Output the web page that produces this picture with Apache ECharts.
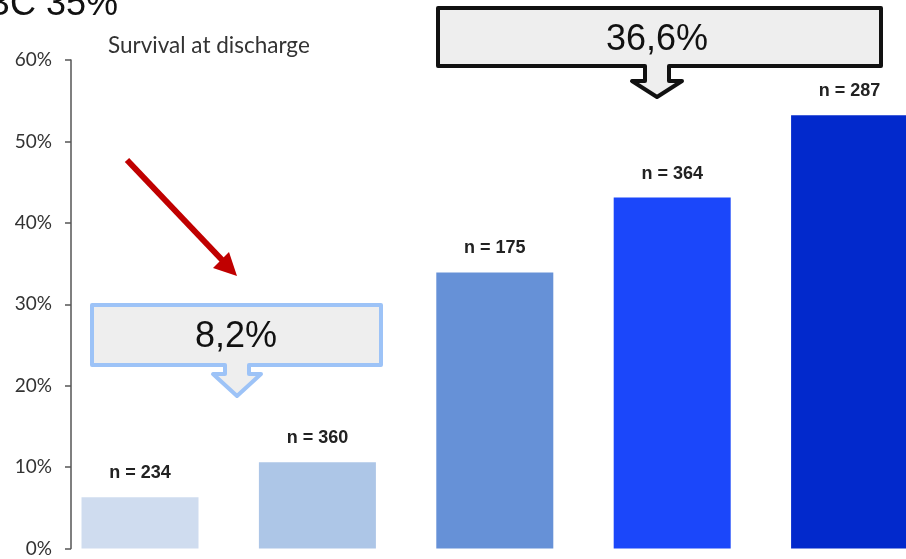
<!DOCTYPE html>
<html>
<head>
<meta charset="utf-8">
<script src="https://cdn.jsdelivr.net/npm/echarts@6/dist/echarts.min.js"></script>
<style>
  html, body { margin: 0; padding: 0; background: #fff; }
  #chart { width: 906px; height: 559px; }
</style>
</head>
<body>
<div id="chart"></div>
<script>
// Survival at discharge by group
const groupIndex = [0, 1, 2, 3, 4];
const survivalPct = [6.3, 10.6, 33.9, 43.1, 53.2];
const groupSizes = [234, 360, 175, 364, 287];
const barColors = ['#cfdcef', '#adc6e7', '#6691d7', '#1b47fa', '#0229cc'];
const yTicks = { min: 0, max: 60, step: 10 };

const chartTitle = 'Survival at discharge';
const headerText = 'BC 35%';
const calloutLow = '8,2%';
const calloutHigh = '36,6%';

const chart = echarts.init(document.getElementById('chart'), null, { renderer: 'canvas' });

// Outline of a rectangular callout with a downward block arrow beneath it
function calloutPath(x0, y0, x1, y1, cx, stemHalf, headHalf, shoulderY, tipY) {
  return [
    [x0, y0], [x1, y0], [x1, y1],
    [cx + stemHalf, y1], [cx + stemHalf, shoulderY], [cx + headHalf, shoulderY],
    [cx, tipY],
    [cx - headHalf, shoulderY], [cx - stemHalf, shoulderY], [cx - stemHalf, y1],
    [x0, y1]
  ];
}

chart.setOption({
  animation: false,
  backgroundColor: '#ffffff',
  grid: { left: 71, top: 60, right: 0, height: 488.5, containLabel: false },
  // groups sit on an index scale; the last bar runs past the right edge
  xAxis: {
    type: 'value',
    min: -0.389,
    max: 4.318,
    axisLine: { show: false },
    axisTick: { show: false },
    axisLabel: { show: false },
    splitLine: { show: false }
  },
  yAxis: {
    type: 'value',
    min: yTicks.min,
    max: yTicks.max,
    interval: yTicks.step,
    axisLine: { show: true, onZero: false, lineStyle: { color: '#555', width: 1.5 } },
    axisTick: { show: true, length: 6, lineStyle: { color: '#555', width: 1.5 } },
    axisLabel: {
      margin: 19,
      formatter: '{value}%',
      color: '#333',
      fontFamily: 'Lato',
      fontSize: 19
    },
    splitLine: { show: false }
  },
  series: [{
    type: 'bar',
    barWidth: 117,
    data: survivalPct.map((v, i) => ({ value: [groupIndex[i], v], itemStyle: { color: barColors[i] } })),
    label: {
      show: true,
      position: 'top',
      distance: 15,
      formatter: p => 'n = ' + groupSizes[p.dataIndex],
      color: '#222',
      fontFamily: 'Liberation Sans',
      fontWeight: 'bold',
      fontSize: 18
    }
  }],
  graphic: [
    {
      type: 'text',
      left: 108, top: 34,
      style: { text: chartTitle, fill: '#333', font: '22.5px Lato' }
    },
    {
      type: 'text',
      x: 118, y: 23,
      style: {
        text: headerText, fill: '#111', font: '36px "Liberation Sans"',
        align: 'right', verticalAlign: 'bottom'
      }
    },
    // upper callout (black outline)
    {
      type: 'polygon',
      shape: { points: calloutPath(438, 8, 881, 66, 657, 12, 25, 81, 97) },
      style: { fill: '#eeeeee', stroke: '#111', lineWidth: 4, lineJoin: 'round' }
    },
    {
      type: 'text',
      x: 657, y: 40,
      style: {
        text: calloutHigh, fill: '#111', font: '36px "Liberation Sans"',
        align: 'center', verticalAlign: 'middle'
      }
    },
    // lower callout (light blue outline)
    {
      type: 'polygon',
      shape: { points: calloutPath(92, 305, 381, 365, 237, 12, 24, 374, 396) },
      style: { fill: '#eeeeee', stroke: '#9dc3f7', lineWidth: 4, lineJoin: 'round' }
    },
    {
      type: 'text',
      x: 236, y: 337,
      style: {
        text: calloutLow, fill: '#111', font: '36px "Liberation Sans"',
        align: 'center', verticalAlign: 'middle'
      }
    },
    // red pointer arrow
    {
      type: 'line',
      shape: { x1: 127, y1: 160, x2: 224, y2: 262 },
      style: { stroke: '#c00000', lineWidth: 6 }
    },
    {
      type: 'polygon',
      shape: { points: [[213, 268], [229, 252], [237, 276]] },
      style: { fill: '#c00000' }
    }
  ]
});
</script>
</body>
</html>
